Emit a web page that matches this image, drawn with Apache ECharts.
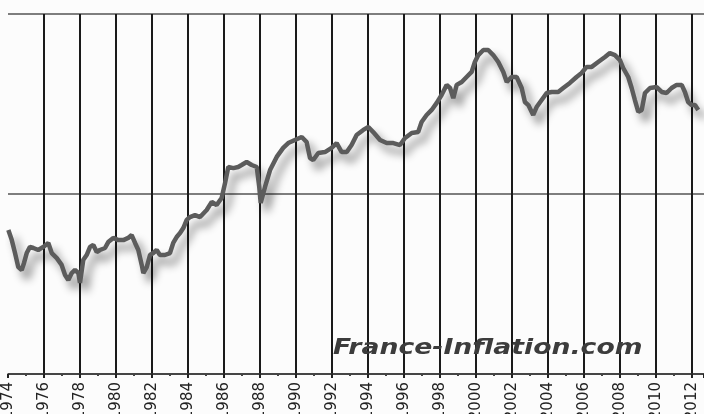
<!DOCTYPE html>
<html>
<head>
<meta charset="utf-8">
<script src="https://cdn.jsdelivr.net/npm/echarts@6/dist/echarts.min.js"></script>
<style>html,body{margin:0;padding:0;background:#fcfcfc;}#c{width:704px;height:414px;}</style>
</head>
<body>
<div id="c"></div>
<script>
const years = [1974.02,1974.21,1974.39,1974.57,1974.76,1974.89,1975.04,1975.22,1975.41,1975.68,1975.96,1976.24,1976.43,1976.71,1976.98,1977.17,1977.35,1977.54,1977.72,1977.91,1978.00,1978.18,1978.37,1978.56,1978.74,1978.93,1979.11,1979.39,1979.57,1979.85,1980.13,1980.41,1980.68,1980.87,1981.06,1981.24,1981.43,1981.52,1981.71,1981.89,1982.07,1982.26,1982.44,1982.72,1983.00,1983.18,1983.37,1983.56,1983.74,1983.93,1984.11,1984.39,1984.67,1985.04,1985.32,1985.59,1985.87,1986.06,1986.24,1986.52,1986.79,1986.98,1987.26,1987.54,1987.82,1987.96,1988.04,1988.28,1988.56,1988.93,1989.29,1989.57,1989.94,1990.32,1990.59,1990.78,1990.96,1991.24,1991.61,1991.98,1992.26,1992.54,1992.82,1993.09,1993.37,1993.74,1994.02,1994.29,1994.67,1995.04,1995.41,1995.78,1996.06,1996.43,1996.79,1996.98,1997.26,1997.54,1997.82,1998.09,1998.37,1998.56,1998.74,1998.93,1999.21,1999.48,1999.76,1999.94,2000.13,2000.41,2000.68,2000.96,2001.24,2001.52,2001.71,2001.98,2002.26,2002.54,2002.72,2002.91,2003.18,2003.37,2003.65,2003.93,2004.21,2004.57,2004.85,2005.22,2005.59,2005.87,2006.15,2006.43,2006.79,2007.17,2007.44,2007.72,2008.00,2008.18,2008.46,2008.65,2008.83,2009.02,2009.21,2009.39,2009.67,2010.04,2010.32,2010.59,2010.87,2011.15,2011.43,2011.61,2011.79,2011.98,2012.17,2012.35];
const values = [0.800,0.744,0.672,0.594,0.578,0.617,0.672,0.706,0.700,0.689,0.706,0.728,0.672,0.644,0.606,0.550,0.522,0.561,0.578,0.561,0.506,0.633,0.661,0.706,0.717,0.678,0.689,0.700,0.733,0.756,0.744,0.744,0.756,0.772,0.728,0.689,0.606,0.561,0.594,0.661,0.672,0.689,0.661,0.661,0.672,0.728,0.761,0.783,0.811,0.856,0.872,0.883,0.872,0.911,0.956,0.939,0.978,1.061,1.150,1.144,1.150,1.161,1.178,1.161,1.150,1.039,0.950,1.039,1.133,1.206,1.256,1.283,1.300,1.317,1.289,1.200,1.189,1.228,1.233,1.256,1.283,1.233,1.233,1.272,1.328,1.356,1.372,1.344,1.300,1.283,1.283,1.272,1.311,1.339,1.344,1.400,1.439,1.467,1.506,1.550,1.606,1.589,1.533,1.606,1.622,1.650,1.678,1.733,1.772,1.800,1.800,1.772,1.733,1.678,1.622,1.650,1.650,1.589,1.511,1.494,1.439,1.483,1.522,1.561,1.567,1.567,1.589,1.617,1.650,1.672,1.706,1.706,1.733,1.761,1.783,1.772,1.744,1.700,1.650,1.589,1.522,1.456,1.467,1.561,1.589,1.594,1.567,1.561,1.589,1.606,1.606,1.567,1.511,1.494,1.494,1.467];
const watermark = 'France-Inflation.com';

const seriesData = years.map((y, i) => [y, values[i]]);

const chart = echarts.init(document.getElementById('c'), null, {renderer: 'canvas'});
chart.setOption({
  backgroundColor: '#fcfcfc',
  animation: false,
  grid: {left: 8, right: 0, top: 14, bottom: 40, containLabel: false, outerBoundsMode: 'none'},
  xAxis: {
    type: 'value',
    min: 1974,
    max: 2012.67,
    interval: 2,
    axisLine: {show: true, lineStyle: {color: '#333', width: 1.5}},
    axisTick: {show: true, length: 4, lineStyle: {color: '#222', width: 2}},
    minorTick: {show: true, splitNumber: 2, length: 2, lineStyle: {color: '#444', width: 2}},
    axisLabel: {
      rotate: 90, margin: 8, color: '#222', fontSize: 15,
      fontFamily: 'DejaVu Sans', showMinLabel: true, hideOverlap: false,
      formatter: v => String(Math.round(v))
    },
    splitLine: {show: true, showMinLine: false, showMaxLine: false, lineStyle: {color: '#1a1a1a', width: 2}}
  },
  yAxis: {
    type: 'value',
    min: 0, max: 2, interval: 1,
    axisLine: {show: false},
    axisTick: {show: false},
    axisLabel: {show: false},
    splitLine: {show: true, lineStyle: {color: '#555', width: 1.5}}
  },
  graphic: [{
    type: 'text',
    x: 333, y: 338,
    scaleX: 1.27,
    z: 100,
    style: {
      text: watermark,
      font: 'italic bold 21px "DejaVu Sans"',
      fill: '#3c3c3c',
      shadowColor: 'rgba(0,0,0,0.25)',
      shadowBlur: 3, shadowOffsetX: 2, shadowOffsetY: 2
    }
  }],
  series: [{
    type: 'line',
    data: seriesData,
    showSymbol: false,
    symbol: 'none',
    lineStyle: {
      color: '#5c5c5c', width: 4.5,
      shadowColor: 'rgba(0,0,0,0.45)', shadowBlur: 8,
      shadowOffsetX: 6, shadowOffsetY: 8
    },
    z: 5
  }]
});
</script>
</body>
</html>
